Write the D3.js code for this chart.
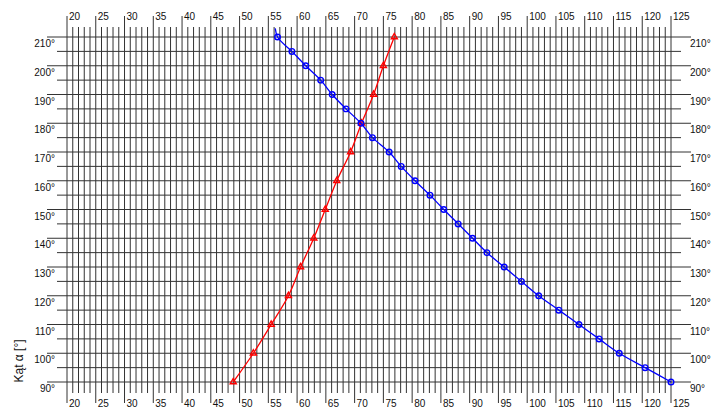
<!DOCTYPE html>
<html><head><meta charset="utf-8">
<script src="https://cdn.jsdelivr.net/npm/d3@7"></script>
<style>
html,body{margin:0;padding:0;background:#fff;}
svg{display:block;font-family:"Liberation Sans",Arial,sans-serif;}
</style></head>
<body>
<script>
// ---- data ----
const xTickValues = [20,25,30,35,40,45,50,55,60,65,70,75,80,85,90,95,100,105,110,115,120,125];
const yTickValues = [90,100,110,120,130,140,150,160,170,180,190,200,210];
const yTitle = "Kąt α [°]";

// blue series (circles) – first point is the curve start without marker
const blueAngles = [213,210,205,200,195,190,185,180,175,170,165,160,155,150,145,140,135,130,125,120,115,110,105,100,95,90];
const blueValues = [56.2,56.6,59.1,61.5,64.1,66.1,68.5,71.1,73.1,76.0,78.1,80.5,83.1,85.5,88.0,90.5,93.0,96.0,99.0,102.0,105.5,109.0,112.5,116.0,120.5,125.0];
const blueMarked = [false,true,true,true,true,true,true,true,true,true,true,true,true,true,true,true,true,true,true,true,true,true,true,true,true,true];

// red series (triangles)
const redAngles = [210,200,190,180,170,160,150,140,130,120,110,100,90];
const redValues = [76.9,75.0,73.3,71.2,69.3,66.9,64.9,62.9,60.6,58.5,55.5,52.4,48.9];

// ---- drawing ----
const W = 724, H = 408;
const svg = d3.select("body").append("svg").attr("width", W).attr("height", H);

const x = d3.scaleLinear().domain([20,125]).range([67,671]);
const y = d3.scaleLinear().domain([90,210]).range([382,37]);

const gridColor = "#333";
const g = svg.append("g");

// vertical grid lines (every unit), majors every 5 extend further
const xs = d3.range(20,126,1);
g.selectAll("line.v").data(xs).enter().append("line")
  .attr("x1", d => x(d)).attr("x2", d => x(d))
  .attr("y1", d => d % 5 === 0 ? y(210) - 21 : y(210) - 10)
  .attr("y2", d => d % 5 === 0 ? y(90) + 21 : y(90) + 11)
  .attr("stroke", gridColor).attr("stroke-width", 1);

// horizontal grid lines every 5°, majors every 10°
const ys = d3.range(90,211,5);
g.selectAll("line.h").data(ys).enter().append("line")
  .attr("y1", d => y(d)).attr("y2", d => y(d))
  .attr("x1", d => d % 10 === 0 ? x(20) - 20 : x(20) - 10)
  .attr("x2", d => d % 10 === 0 ? x(125) + 20 : x(125) + 10)
  .attr("stroke", gridColor).attr("stroke-width", 1);

// x tick labels top and bottom
const tl = svg.append("g").attr("font-size", 10).attr("fill", "#111");
tl.selectAll("text.xt").data(xTickValues).enter().append("text")
  .attr("x", d => x(d) + 2).attr("y", 20).text(d => d);
tl.selectAll("text.xb").data(xTickValues).enter().append("text")
  .attr("x", d => x(d) + 2).attr("y", 407).text(d => d);

// y tick labels left and right
tl.selectAll("text.yl").data(yTickValues).enter().append("text")
  .attr("x", 55).attr("y", d => y(d) + 10).attr("text-anchor", "end").text(d => d + "°");
tl.selectAll("text.yr").data(yTickValues).enter().append("text")
  .attr("x", 690).attr("y", d => y(d) + 10).text(d => d + "°");

// y title
svg.append("text")
  .attr("transform", "translate(23,361) rotate(-90)")
  .attr("text-anchor", "middle").attr("font-size", 12).attr("fill", "#111")
  .text(yTitle);

// curves
const line = d3.line().x(d => x(d.v)).y(d => y(d.a)).curve(d3.curveMonotoneY);

const red = redAngles.map((a,i) => ({a, v: redValues[i]}));
const blue = blueAngles.map((a,i) => ({a, v: blueValues[i], m: blueMarked[i]}));

svg.append("path").datum(red).attr("d", line)
  .attr("fill", "none").attr("stroke", "#ff0000").attr("stroke-width", 1.3);
const tri = d3.symbol().type(d3.symbolTriangle).size(16);
svg.selectAll("path.tri").data(red).enter().append("path")
  .attr("d", tri)
  .attr("transform", d => `translate(${x(d.v)},${y(d.a)})`)
  .attr("fill", "none").attr("stroke", "#ff0000").attr("stroke-width", 1.4);

svg.append("path").datum(blue).attr("d", line)
  .attr("fill", "none").attr("stroke", "#0000ff").attr("stroke-width", 1.3);
svg.selectAll("circle.b").data(blue.filter(d => d.m)).enter().append("circle")
  .attr("cx", d => x(d.v)).attr("cy", d => y(d.a)).attr("r", 2.8)
  .attr("fill", "none").attr("stroke", "#0000ff").attr("stroke-width", 1.4);
</script>
</body></html>
